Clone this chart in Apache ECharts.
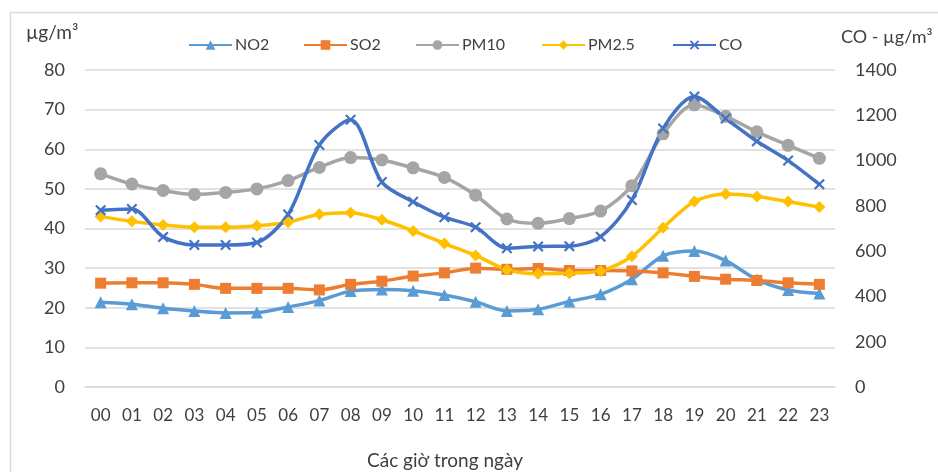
<!DOCTYPE html>
<html>
<head>
<meta charset="utf-8">
<script src="https://cdn.jsdelivr.net/npm/echarts@6/dist/echarts.min.js"></script>
<style>html,body{margin:0;padding:0;background:#fff}#c{width:938px;height:472px}</style>
</head>
<body>
<div id="c"></div>
<script>
var hours = ['00','01','02','03','04','05','06','07','08','09','10','11','12','13','14','15','16','17','18','19','20','21','22','23'];
var no2  = [21.4,20.9,19.9,19.2,18.7,18.8,20.2,21.8,24.2,24.6,24.3,23.2,21.5,19.2,19.6,21.6,23.4,27.2,33.1,34.3,31.9,27.1,24.5,23.6];
var so2  = [26.2,26.3,26.3,25.9,24.9,24.9,24.9,24.5,25.9,26.7,28.0,28.8,30.0,29.7,29.9,29.4,29.4,29.3,28.8,27.9,27.2,26.9,26.3,25.9];
var pm10 = [53.8,51.2,49.6,48.6,49.1,50.0,52.1,55.4,57.9,57.3,55.3,52.9,48.4,42.4,41.3,42.5,44.4,50.8,63.9,71.2,68.3,64.4,61.0,57.7];
var pm25 = [43.0,41.8,40.9,40.3,40.3,40.7,41.6,43.6,44.0,42.2,39.4,36.2,33.2,29.6,28.6,28.7,29.3,33.0,40.2,46.8,48.7,48.1,46.8,45.4];
var co   = [781,786,663,627,627,638,762,1069,1180,905,818,750,706,613,621,622,664,826,1142,1283,1186,1085,1000,895];
var seriesNames = ['NO2','SO2','PM10','PM2.5','CO'];
var leftTicks = {min:0, max:80, interval:10};
var rightTicks = {min:0, max:1400, interval:200};

var FONT = 'Lato';
var TXT = '#404040';
var crossPath = 'path://M0,1.4L1.4,0L5,3.6L8.6,0L10,1.4L6.4,5L10,8.6L8.6,10L5,6.4L1.4,10L0,8.6L3.6,5Z';
var legendLeft = [188, 303, 415, 541, 672];

function mk(name, data, color, symbol, size, yIdx) {
  return {
    name: name, type: 'line', data: data, yAxisIndex: yIdx || 0,
    smooth: 0.3, symbol: symbol, symbolSize: size, showSymbol: true,
    lineStyle: {color: color, width: 3.5},
    itemStyle: {color: color, borderWidth: 0},
    emphasis: {disabled: true}
  };
}

var legends = seriesNames.map(function (n, i) {
  return {
    left: legendLeft[i], top: 37, itemWidth: 43, itemHeight: 12, itemGap: 0, padding: 0,
    textStyle: {fontFamily: FONT, fontSize: 16, color: TXT, padding: [0, 0, 0, -2]},
    data: [n]
  };
});

var chart = echarts.init(document.getElementById('c'), null, {renderer: 'canvas'});
chart.setOption({
  animation: false,
  backgroundColor: '#fff',
  textStyle: {fontFamily: FONT},
  graphic: [{
    type: 'rect', left: 8, top: 10, z: -1,
    shape: {width: 960, height: 500},
    style: {fill: 'none', stroke: '#d9d9d9', lineWidth: 1.5}
  }],
  title: [
    {text: 'µg/m³', left: 21, top: 18, textStyle: {fontFamily: FONT, fontSize: 19, fontWeight: 'normal', color: TXT}},
    {text: 'CO - µg/m³', left: 836, top: 23, textStyle: {fontFamily: FONT, fontSize: 18, fontWeight: 'normal', color: TXT}},
    {text: 'Các giờ trong ngày', left: 362, top: 446, textStyle: {fontFamily: FONT, fontSize: 19, fontWeight: 'normal', color: TXT}}
  ],
  legend: legends,
  grid: {left: 85, right: 103, top: 70, bottom: 85},
  xAxis: {
    type: 'category', data: hours, boundaryGap: true,
    axisLine: {show: true, lineStyle: {color: '#d9d9d9', width: 1.5}},
    axisTick: {show: false},
    axisLabel: {fontFamily: FONT, fontSize: 17, color: TXT, margin: 20, interval: 0}
  },
  yAxis: [{
    type: 'value', min: leftTicks.min, max: leftTicks.max, interval: leftTicks.interval,
    axisLine: {show: false}, axisTick: {show: false},
    axisLabel: {fontFamily: FONT, fontSize: 18, color: TXT, margin: 20},
    splitLine: {lineStyle: {color: '#d9d9d9', width: 1.5}}
  }, {
    type: 'value', min: rightTicks.min, max: rightTicks.max, interval: rightTicks.interval,
    position: 'right',
    axisLine: {show: false}, axisTick: {show: false},
    axisLabel: {fontFamily: FONT, fontSize: 18, color: TXT, margin: 20, formatter: function (v) { return String(v); }},
    splitLine: {show: false}
  }],
  series: [
    mk(seriesNames[0], no2, '#5B9BD5', 'triangle', 12),
    mk(seriesNames[1], so2, '#ED7D31', 'rect', 11),
    mk(seriesNames[2], pm10, '#A5A5A5', 'circle', 13),
    mk(seriesNames[3], pm25, '#FFC000', 'diamond', 12),
    mk(seriesNames[4], co, '#4472C4', crossPath, 11, 1)
  ]
});
</script>
</body>
</html>
